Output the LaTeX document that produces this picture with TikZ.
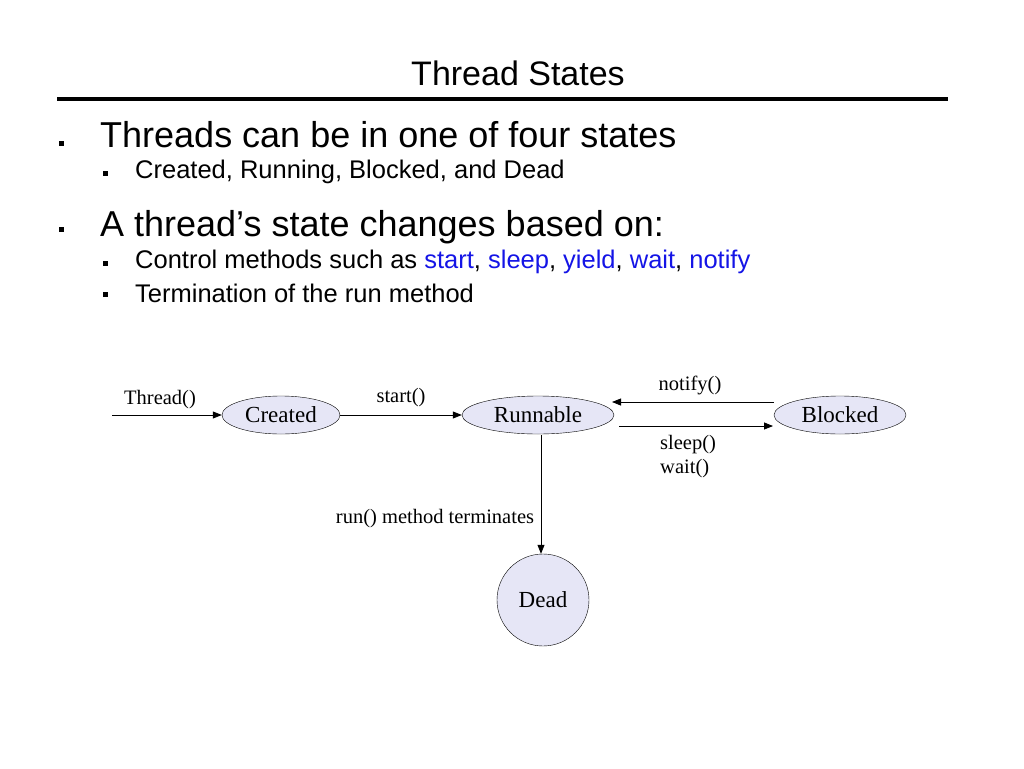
\documentclass[tikz,border=0pt]{standalone}
\usepackage{fontspec}
\setmainfont{Liberation Sans}
\newfontfamily\serifdiag{Liberation Serif}
\usetikzlibrary{arrows.meta,shapes.geometric}
\definecolor{stfill}{RGB}{230,230,246}
\definecolor{kwblue}{RGB}{20,20,230}
\tikzset{
    state/.style={draw, ellipse, fill=stfill, inner sep=0pt, font=\serifdiag\fontsize{23}{26}\selectfont},
    trans/.style={-{Triangle[length=9pt,width=7pt]}, line width=0.8pt},
    lbl/.style={font=\serifdiag\fontsize{20.5}{24}\selectfont},
    bul/.style={fill, minimum size=5pt, inner sep=0pt}
}
\begin{document}
\begin{tikzpicture}[x=1pt,y=-1pt]
    \useasboundingbox (0,0) rectangle (1024,768);
    %% Title
    \node (title) at (518,73) {\fontsize{34}{38}\selectfont Thread States};
    \draw[line width=4pt] (57,99) -- (948,99);

    %% Bullets
    \node[bul] (b1) at (61,143) {};
    \node[anchor=west, inner sep=0pt] (t1) at (100,135) {\fontsize{36}{40}\selectfont Threads can be in one of four states};
    \node[bul] (b11) at (105,173) {};
    \node[anchor=west, inner sep=0pt] (t11) at (135,172) {\fontsize{25.5}{28}\selectfont Created, Running, Blocked, and Dead};
    \node[bul] (b2) at (61,229) {};
    \node[anchor=west, inner sep=0pt] (t2) at (100,227) {\fontsize{36}{40}\selectfont A thread\symbol{39}s state changes based on:};
    \node[bul] (b21) at (105,263) {};
    \node[anchor=west, inner sep=0pt] (t21) at (135,262) {\fontsize{25.5}{28}\selectfont Control methods such as \textcolor{kwblue}{start}, \textcolor{kwblue}{sleep}, \textcolor{kwblue}{yield}, \textcolor{kwblue}{wait}, \textcolor{kwblue}{notify}};
    \node[bul] (b22) at (105,294) {};
    \node[anchor=west, inner sep=0pt] (t22) at (135,293) {\fontsize{25.5}{28}\selectfont Termination of the run method};

    %% States
    \node[state, minimum width=118pt, minimum height=38pt] (created) at (281,415) {Created};
    \node[state, minimum width=152pt, minimum height=38pt] (runnable) at (538,415) {Runnable};
    \node[state, minimum width=132pt, minimum height=38pt] (blocked) at (840,415) {Blocked};
    \node[state, circle, minimum size=92pt] (dead) at (543,600) {Dead};

    %% Transitions
    \coordinate (entry) at (112,415);
    \draw[trans] (entry) -- (created.west);
    \draw[trans] (created.east) -- (runnable.west);
    \draw[trans] (blocked.west |- 0,402) -- (612,402);
    \draw[trans] (619,426) -- (773,426);
    \draw[trans] (541,435) -- (dead.north -| 541,0);

    %% Labels
    \node[lbl] (lthread) at (160,400) {Thread()};
    \node[lbl] (lstart) at (401,398) {start()};
    \node[lbl] (lnotify) at (690,385) {notify()};
    \node[lbl, anchor=west, align=left, inner sep=0pt] (lsleep) at (660,457) {sleep()\\wait()};
    \node[lbl] (lrun) at (435,519) {run() method terminates};
\end{tikzpicture}
\end{document}
